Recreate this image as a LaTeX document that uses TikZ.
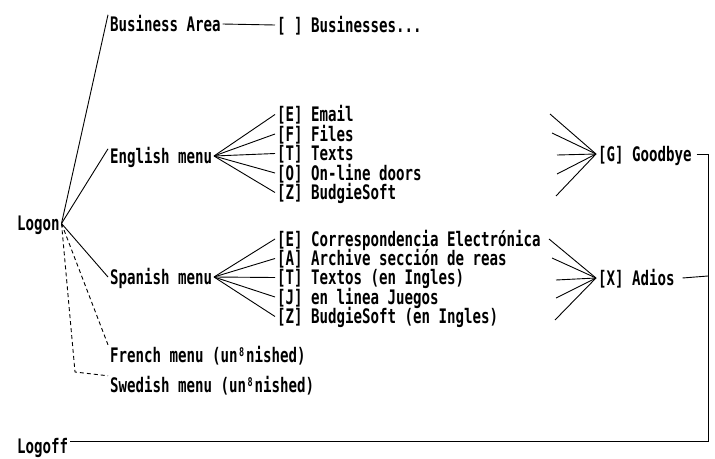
\documentclass[tikz,border=0pt]{standalone}
\usepackage{fontspec}
\newfontfamily\gemfont[FakeStretch=0.706]{DejaVu Sans Mono}
\newcommand\smalleight{\hbox to \fontcharwd\font`n{\hss\raisebox{0.5ex}{\fontsize{12}{12}\selectfont 8}\hss}}
\tikzset{
  lbl/.style={anchor=west, inner sep=0pt, outer xsep=2pt, text height=14pt, text depth=0pt,
    font=\gemfont\bfseries\fontsize{20}{20}\selectfont},
  conn/.style={draw=black, line width=0.9pt},
  unfinished/.style={conn, dash pattern=on 4pt off 3pt}
}
\begin{document}
\begin{tikzpicture}[x=1pt,y=-1pt]
\useasboundingbox (0,0) rectangle (715,458);
% main nodes
\node[lbl] (logon)  at (15,223.5) {Logon};
\node[lbl] (logoff) at (15,446) {Logoff};
\node[lbl] (ba)     at (108,24)  {Business Area};
\node[lbl] (biz)    at (275,25)  {[ ] Businesses...};
\node[lbl] (eng)    at (108,156) {English menu};
\node[lbl] (spa)    at (108,277) {Spanish menu};
\node[lbl] (fre)    at (108,355) {French menu (un\smalleight nished)};
\node[lbl] (swe)    at (108,385) {Swedish menu (un\smalleight nished)};
% English items
\node[lbl] (e1) at (275,114.5) {[E] Email};
\node[lbl] (e2) at (275,134)   {[F] Files};
\node[lbl] (e3) at (275,153.5) {[T] Texts};
\node[lbl] (e4) at (275,173)   {[O] On-line doors};
\node[lbl] (e5) at (275,192.5) {[Z] BudgieSoft};
% Spanish items
\node[lbl] (s1) at (275,239)   {[E] Correspondencia Electrónica};
\node[lbl] (s2) at (275,258.5) {[A] Archive sección de reas};
\node[lbl] (s3) at (275,277.5) {[T] Textos (en Ingles)};
\node[lbl] (s4) at (275,297)   {[J] en linea Juegos};
\node[lbl] (s5) at (275,316.5) {[Z] BudgieSoft (en Ingles)};
% exits
\node[lbl] (gb) at (596,154) {[G] Goodbye};
\node[lbl] (ad) at (596,278) {[X] Adios};
% free ends of incoming lines
\coordinate (g1) at (550,114);
\coordinate (g2) at (552,133);
\coordinate (g3) at (557,155);
\coordinate (g4) at (557,174);
\coordinate (g5) at (556,196);
\coordinate (a1) at (549,239);
\coordinate (a2) at (552,258);
\coordinate (a3) at (556,280);
\coordinate (a4) at (556,298);
\coordinate (a5) at (555,320);
\coordinate (rail) at (708,0);
\coordinate (swebend) at (75,372);
% Logon connectors
\draw[conn] (logon.east) -- ([yshift=2pt]ba.north west);
\draw[conn] (logon.east) -- (eng.north west);
\draw[conn] (logon.east) -- (spa.west);
\draw[unfinished] (logon.east) -- ([yshift=3pt]fre.north west);
\draw[unfinished] (logon.east) -- (swebend) -- ([yshift=2pt]swe.north west);
% business
\draw[conn] (ba.east) -- (biz.west);
% fans
\foreach \i in {1,...,5} {
  \draw[conn] (eng.east) -- (e\i.west);
  \draw[conn] (spa.east) -- (s\i.west);
  \draw[conn] (g\i) -- (gb.west);
  \draw[conn] (a\i) -- (ad.west);
}
% exit rail to logoff
\draw[conn] ([xshift=3pt]gb.east) -- (gb.east -| rail) |- ([yshift=5pt]logoff.east);
\draw[conn] ([xshift=6pt]ad.east) -- ([yshift=2pt]ad.east -| rail);
\end{tikzpicture}
\end{document}
